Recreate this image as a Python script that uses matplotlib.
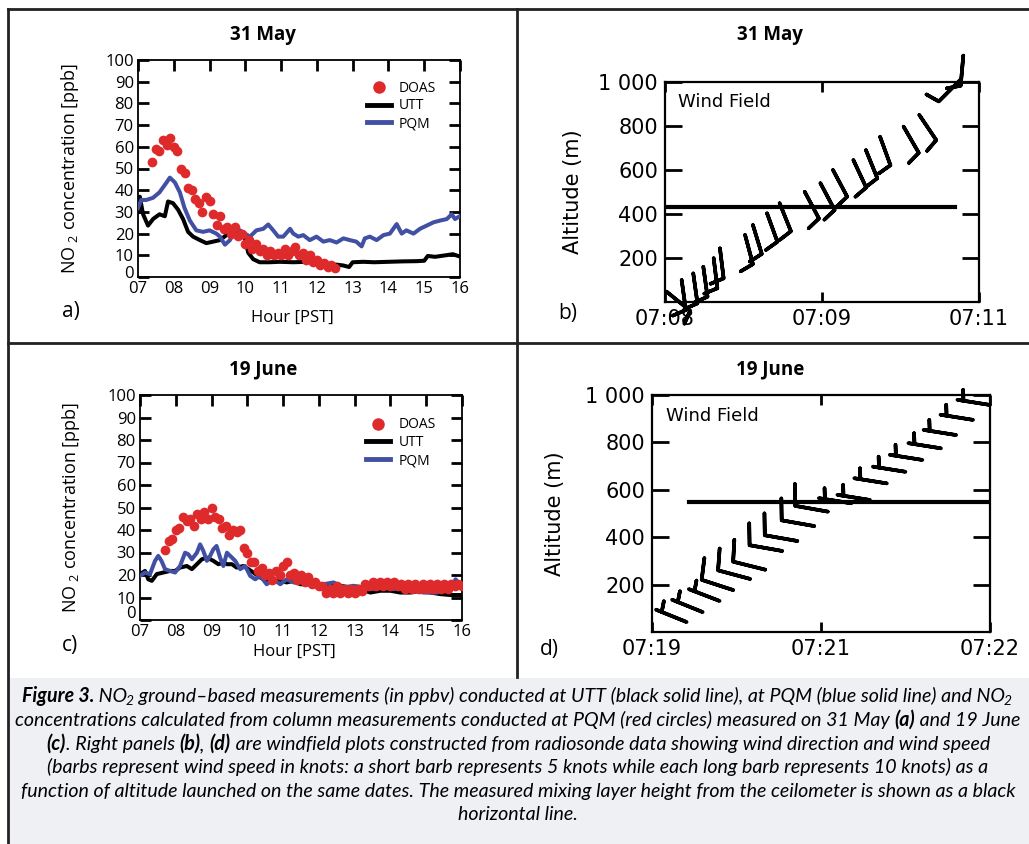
import numpy as np
import matplotlib
matplotlib.use("Agg")
from matplotlib import pyplot as plt
from matplotlib.lines import Line2D
from matplotlib.patches import Rectangle

W, H = 1029, 844

plt.rcParams["font.family"] = ["Open Sans", "DejaVu Sans"]
plt.rcParams["mathtext.default"] = "regular"

RED = "#df2a2b"
BLUE = "#4150a3"

# ---- 31 May, NO2 (hour PST, ppb)
doas_a_h = [7.4, 7.5, 7.6, 7.7, 7.8, 7.9, 8.0, 8.1, 8.2, 8.3, 8.4, 8.5, 8.6, 8.7, 8.8, 8.9,
            9.0, 9.1, 9.2, 9.3, 9.4, 9.5, 9.6, 9.7, 9.8, 9.9, 10.0, 10.1, 10.2, 10.3, 10.4,
            10.5, 10.6, 10.7, 10.8, 10.9, 11.0, 11.1, 11.2, 11.3, 11.4, 11.5, 11.6, 11.7,
            11.8, 11.9, 12.0, 12.1, 12.2, 12.3, 12.4, 12.5]
doas_a = [53, 59, 58, 63, 61, 64, 60, 58, 50, 48, 41, 40, 36, 34, 30, 37,
          35, 29, 24, 28, 22, 23, 20, 23, 19, 20, 15, 17, 13, 15, 12,
          13, 10, 12, 10, 11, 10, 13, 10, 12, 14, 10, 11, 8,
          10, 7, 8, 5.5, 6.5, 4.5, 5.5, 4.2]

utt_a_h = [7.0, 7.05, 7.14, 7.28, 7.42, 7.6, 7.75, 7.84, 7.98, 8.12, 8.26, 8.4, 8.54, 8.73,
           8.91, 9.1, 9.29, 9.47, 9.66, 9.85, 9.99, 10.08, 10.22, 10.4, 10.68, 10.96, 11.34,
           11.71, 12.08, 12.27, 12.55, 12.74, 12.9, 13.0, 13.3, 13.6, 14.0, 14.4, 14.8, 15.0,
           15.1, 15.3, 15.6, 15.8, 16.0]
utt_a = [30, 37, 29, 23.7, 26.7, 28.9, 28, 34.8, 34, 31, 26.7, 20.8, 18.6, 17,
         15.6, 16.3, 17, 19.3, 21.5, 20, 17.8, 11.2, 8.2, 6.8, 6.8, 7, 6.8,
         7, 6.8, 5.3, 5.7, 5.3, 4.6, 6.8, 7, 6.8, 7, 7.2, 7.3, 7.5,
         9.7, 9.3, 10, 10.5, 9.4]

pqm_a_h = [7.0, 7.09, 7.23, 7.42, 7.6, 7.8, 7.89, 8.03, 8.17, 8.3, 8.45, 8.63, 8.82, 9.0,
           9.19, 9.29, 9.43, 9.57, 9.7, 9.85, 9.99, 10.13, 10.31, 10.5, 10.64, 10.78, 10.92,
           11.06, 11.25, 11.34, 11.48, 11.62, 11.8, 11.99, 12.18, 12.36, 12.55, 12.74, 12.92,
           13.1, 13.25, 13.34, 13.48, 13.67, 13.86, 14.04, 14.23, 14.37, 14.5, 14.7, 14.88,
           15.07, 15.26, 15.44, 15.63, 15.77, 15.86, 16.0]
pqm_a = [31.8, 35.5, 35.5, 36.5, 39, 43.6, 45.8, 43.6, 39, 31.8, 26, 21.5, 20.8, 21.5,
         20, 18.6, 14.9, 17, 21.5, 21.5, 20, 18.6, 21.5, 22.2, 24.2, 21.5, 18.6,
         18.6, 22.2, 20, 18.6, 19.3, 17, 18.6, 16.3, 17, 15.9, 17.8, 17,
         16.3, 14.1, 17.8, 18.6, 17, 19.3, 20, 24.4, 20, 21.5, 20, 22.2,
         23.7, 25.2, 26, 26.7, 28.9, 26.7, 28.1]

# ---- 19 June, NO2
doas_c_h = [7.7, 7.8, 7.9, 8.0, 8.1, 8.2, 8.3, 8.4, 8.5, 8.6, 8.7, 8.8, 8.9, 9.0, 9.1, 9.2,
            9.3, 9.4, 9.5, 9.6, 9.7, 9.8, 9.9, 10.0, 10.1, 10.2, 10.3, 10.4, 10.5, 10.6,
            10.7, 10.8, 10.9, 11.0, 11.1, 11.2, 11.3, 11.4, 11.5, 11.6, 11.7, 11.8, 11.9,
            12.0, 12.1, 12.2, 12.3, 12.4, 12.5, 12.6, 12.7, 12.8, 12.9, 13.0, 13.1, 13.2,
            13.3, 13.4, 13.5, 13.6, 13.7, 13.8, 13.9, 14.0, 14.1, 14.2, 14.3, 14.4, 14.5,
            14.6, 14.7, 14.8, 14.9, 15.0, 15.1, 15.2, 15.3, 15.4, 15.5, 15.6, 15.7, 15.8,
            15.9, 16.0]
doas_c = [31, 35, 36, 40, 41, 46, 44, 45, 42, 47, 45, 48, 45, 50, 46, 45,
          41, 42, 38, 40, 39, 40, 32, 30, 26, 26, 22, 23, 20, 21,
          18, 22, 20, 24, 26, 20, 21, 18, 20, 17, 19, 16, 17,
          15, 15, 12, 14, 12, 15, 12, 14, 12, 14, 12, 14, 13,
          16, 15, 17, 15, 17, 15, 17, 15, 17, 15, 16, 14, 16,
          14, 16, 14, 16, 14, 16, 14, 16, 14, 16, 14, 16, 15,
          16, 15]

utt_c_h = [7.0, 7.14, 7.23, 7.33, 7.47, 7.65, 7.84, 7.98, 8.12, 8.31, 8.45, 8.59, 8.73, 8.87,
           9.05, 9.19, 9.33, 9.43, 9.57, 9.7, 9.89, 10.03, 10.17, 10.36, 10.54, 10.73, 10.92,
           11.1, 11.29, 11.48, 11.76, 12.04, 12.32, 12.6, 12.88, 13.16, 13.44, 13.72, 14.0,
           14.28, 14.56, 14.84, 15.12, 15.4, 15.68, 15.96]
utt_c = [20.4, 21.8, 18.1, 17.4, 20.4, 21.1, 21.8, 21.8, 23.3, 24, 22.6, 24.8, 27, 27.7,
         26.3, 24.8, 25.5, 24.8, 24.8, 23.3, 24, 22.6, 21.1, 18.9, 17.4, 17.4, 17.4,
         16.7, 17.4, 15.9, 15.9, 15.2, 15.9, 15.2, 14.5, 13.7, 12.2, 13, 13,
         12.2, 12.2, 13, 12.2, 11.5, 11.1, 11.1]

pqm_c_h = [7.0, 7.14, 7.28, 7.42, 7.51, 7.6, 7.7, 7.84, 7.98, 8.12, 8.26, 8.35, 8.45, 8.59,
           8.68, 8.77, 8.87, 8.96, 9.05, 9.14, 9.24, 9.33, 9.43, 9.52, 9.66, 9.8, 9.94,
           10.08, 10.22, 10.36, 10.54, 10.73, 10.92, 11.1, 11.29, 11.57, 11.85, 12.13, 12.41,
           12.69, 12.97, 13.25, 13.53, 13.81, 14.09, 14.37, 14.65, 14.93, 15.12, 15.3, 15.49,
           15.68, 15.82, 15.96]
pqm_c = [19.6, 21.1, 20.4, 26.3, 28.5, 26.3, 22.6, 21.8, 21.1, 24, 29.9, 29.2, 27, 29.9,
         33.6, 30.7, 26.3, 28.5, 31.4, 32.9, 27.7, 24, 29.9, 28.5, 26.3, 22.6, 24,
         19.6, 18.1, 19.6, 15.9, 18.1, 15.9, 18.1, 16.7, 16.7, 15.9, 15.9, 16.7,
         14.5, 15.2, 14.5, 13.7, 14.5, 13.7, 14.5, 13, 12.2, 12.2, 12.2, 13,
         13.7, 18.1, 15.2]

# ---- wind field, 31 May (x = tick index, altitude m, speed kt, direction deg)
wind_b_t = [0.01, 0.106, 0.18, 0.244, 0.31, 0.35, 0.51, 0.56, 0.65, 0.73, 0.89, 0.99,
            1.07, 1.20, 1.28, 1.37, 1.52, 1.62, 1.88, 1.90]
wind_b_alt = [47, 100, 130, 160, 199, 244, 305, 350, 403, 449, 501, 540,
              600, 645, 690, 751, 797, 850, 1009, 1120]
wind_b_spd = [10, 10, 10, 10, 10, 10, 10, 10, 10, 10, 10, 10,
              10, 10, 10, 10, 10, 10, 10, 10]
wind_b_dir = [129, 172, 172, 172, 173, 173, 165, 163, 160, 158, 152, 152,
              152, 155, 158, 160, 150, 146, 225, 185]
mlh_b = 430
mlh_b_span = [0.0, 1.85]

# ---- wind field, 19 June
wind_d_t = [0.205, 0.30, 0.40, 0.48, 0.58, 0.67, 0.77, 0.86, 0.96, 1.04, 1.18, 1.29,
            1.39, 1.50, 1.60, 1.71, 1.80, 1.90, 2.0]
wind_d_alt = [42, 84, 131, 177, 224, 263, 342, 384, 447, 508, 543, 557,
              627, 676, 726, 775, 831, 895, 958]
wind_d_spd = [5, 5, 5, 10, 10, 10, 10, 10, 10, 10, 5, 5,
              5, 5, 5, 5, 5, 5, 5]
wind_d_dir = [292, 292, 291, 288, 285, 284, 280, 280, 280, 280, 279, 279,
              279, 279, 279, 279, 279, 279, 279]
mlh_d = 550
mlh_d_span = [0.22, 2.0]

hours = list(range(7, 17))
hour_labels = ["%02d" % h for h in hours]
conc_ticks = list(range(0, 101, 10))
conc_labels = [""] + [str(v) for v in conc_ticks[1:]]


def px_rect(x0, y0, x1, y1):
    return [x0 / W, 1 - y1 / H, (x1 - x0) / W, (y1 - y0) / H]


fig = plt.figure(figsize=(W / 100, H / 100), dpi=100)


def conc_panel(box, ylo, dh, dv, uh, uv, ph, pv, leg_xy, xlab_y, ylab_x, zero_y):
    ax = fig.add_axes(px_rect(*box))
    ax.plot(uh, uv, color="black", lw=2.9, zorder=2)
    ax.plot(ph, pv, color=BLUE, lw=2.9, zorder=3)
    ax.plot(dh, dv, ls="none", marker="o", ms=7, color=RED, mec="none", zorder=4)
    ax.set_xlim(7, 16)
    ax.set_ylim(ylo, 100)
    ax.set_xticks(hours, hour_labels)
    ax.set_yticks(conc_ticks, conc_labels)
    ax.tick_params(axis="y", direction="in", length=8, width=2, left=True, right=True,
                   labelsize=12, pad=3)
    ax.tick_params(axis="x", direction="in", length=8, width=2, top=True, bottom=False,
                   labelsize=12, pad=3)
    for s in ax.spines.values():
        s.set_linewidth(1.3)
    # the zero label sits just above the corner, clear of the "07"
    ax.text(-0.012, zero_y, "0", transform=ax.transAxes, ha="right", va="center",
            fontsize=12, clip_on=False)
    ax.set_xlabel("Hour [PST]", fontsize=12)
    ax.set_ylabel("NO$_{\\ 2}$ concentration [ppb]", fontsize=13)
    ax.xaxis.set_label_coords(0.48, xlab_y)
    ax.yaxis.set_label_coords(ylab_x, 0.5)
    handles = [Line2D([], [], ls="none", marker="o", ms=9, color=RED, mec="none"),
               Line2D([], [], color="black", lw=3.5),
               Line2D([], [], color=BLUE, lw=3.5)]
    ax.legend(handles, ["DOAS", "UTT", "PQM"], loc="upper left", bbox_to_anchor=leg_xy,
              frameon=False, fontsize=10, handlelength=1.7, handletextpad=0.6,
              labelspacing=0.2, borderpad=0, borderaxespad=0)
    return ax


def wind_panel(box, t, alt, spd, wdir, mlh, span, xlabels, length, sizes, ylab_x):
    ax = fig.add_axes(px_rect(*box))
    rad = np.deg2rad(wdir)
    u = -np.array(spd) * np.sin(rad)
    v = -np.array(spd) * np.cos(rad)
    ax.barbs(t, alt, u, v, length=length, sizes=sizes, linewidth=2.6, color="black",
             clip_on=False, zorder=3)
    ax.plot(span, [mlh, mlh], color="black", lw=3, zorder=2)
    ax.set_xlim(0, 2)
    ax.set_ylim(0, 1000)
    ax.set_xticks([0, 1, 2], xlabels)
    ax.set_yticks([200, 400, 600, 800, 1000], ["200", "400", "600", "800", "1 000"])
    ax.tick_params(axis="y", direction="in", length=12, width=2, left=True, right=True,
                   labelsize=15, pad=5, labelfontfamily="DejaVu Sans")
    ax.tick_params(axis="x", direction="in", length=7, width=2, top=True, bottom=True,
                   labelsize=15, pad=5, labelfontfamily="DejaVu Sans")
    for s in ax.spines.values():
        s.set_linewidth(1.6)
    ax.set_ylabel("Altitude (m)", fontsize=15, family="DejaVu Sans")
    ax.yaxis.set_label_coords(ylab_x, 0.5)
    ax.text(0.04, 0.91, "Wind Field", transform=ax.transAxes, fontsize=13,
            family="DejaVu Sans", va="center", ha="left")
    return ax


conc_panel((138, 60, 460, 277), 3.8, doas_a_h, doas_a, utt_a_h, utt_a, pqm_a_h, pqm_a,
           (0.711, 0.905), -0.15, -0.176, 0.014)
conc_panel((140, 395, 462, 620), 0, doas_c_h, doas_c, utt_c_h, utt_c, pqm_c_h, pqm_c,
           (0.703, 0.9), -0.105, -0.18, 0.027)

wind_panel((665, 82, 979, 302), wind_b_t, wind_b_alt, wind_b_spd, wind_b_dir, mlh_b, mlh_b_span,
           ["07:08", "07:09", "07:11"], 6.6, dict(height=0.45), -0.261)
wind_panel((652, 395, 990, 632), wind_d_t, wind_d_alt, wind_d_spd, wind_d_dir, mlh_d, mlh_d_span,
           ["07:19", "07:21", "07:22"], 6.9, dict(height=0.65), -0.256)


def ftext(x, y, s, **kw):
    return fig.text(x / W, 1 - y / H, s, **kw)


for x, y, s in [(263, 35, "31 May"), (770, 35, "31 May"), (263, 369, "19 June"), (770, 369, "19 June")]:
    ftext(x, y, s, ha="center", va="center", fontsize=13.5, weight="bold")
for x, y, s in [(62, 312, "a)"), (558, 313, "b)"), (62, 646, "c)"), (540, 650, "d)")]:
    ftext(x, y, s, ha="left", va="center", fontsize=15)

# table rules and caption box
rule = dict(color="#222222", lw=2.0, transform=fig.transFigure)
for xs, ys in [([8, W], [9, 9]), ([8, 8], [9, H]), ([517, 517], [9, 677]), ([8, W], [343, 343])]:
    fig.add_artist(Line2D([x / W for x in xs], [1 - y / H for y in ys], **rule))
fig.add_artist(Rectangle((9.5 / W, 0), (W - 9.5) / W, (H - 678) / H, transform=fig.transFigure,
                         facecolor="#eef0f4", edgecolor="none", zorder=-1))

cap = [
    [("Figure 3.", True, False), (" NO", False, False), ("2", False, True),
     (" ground\u2013based measurements (in ppbv) conducted at UTT (black solid line), at PQM (blue solid line) and NO", False, False),
     ("2", False, True)],
    [("concentrations calculated from column measurements conducted at PQM (red circles) measured on 31 May ", False, False),
     ("(a)", True, False), (" and 19 June", False, False)],
    [("(c)", True, False), (". Right panels ", False, False), ("(b)", True, False), (", ", False, False),
     ("(d)", True, False), (" are windfield plots constructed from radiosonde data showing wind direction and wind speed", False, False)],
    [("(barbs represent wind speed in knots: a short barb represents 5 knots while each long barb represents 10 knots) as a", False, False)],
    [("function of altitude launched on the same dates. The measured mixing layer height from the ceilometer is shown as a black", False, False)],
    [("horizontal line.", False, False)],
]
cap_y = [697, 721, 745, 768, 792, 815]
cap_family = ["Liberation Sans Narrow", "Lato", "DejaVu Sans"]
renderer = fig.canvas.get_renderer()


def cap_pieces(parts, size):
    items = []
    for s, bold, sub in parts:
        t = fig.text(0, 0, s, family=cap_family, style="italic",
                     weight="bold" if bold else "normal",
                     fontsize=size * 0.7 if sub else size, va="baseline", ha="left")
        items.append((t, t.get_window_extent(renderer).width, sub))
    return items


# size the caption so that its second line spans the same width as in the source
probe = cap_pieces(cap[1], 12)
cap_size = 12 * 1005 / sum(w for _, w, _ in probe)
for t, _, _ in probe:
    t.remove()

for parts, y in zip(cap, cap_y):
    items = cap_pieces(parts, cap_size)
    total = sum(w for _, w, _ in items)
    x = 518 - total / 2
    for t, w, sub in items:
        if sub:
            x -= 1.5
        t.set_position((x / W, 1 - (y + (3 if sub else 0) + 5) / H))
        x += w

fig.savefig("out.png", dpi=100)
